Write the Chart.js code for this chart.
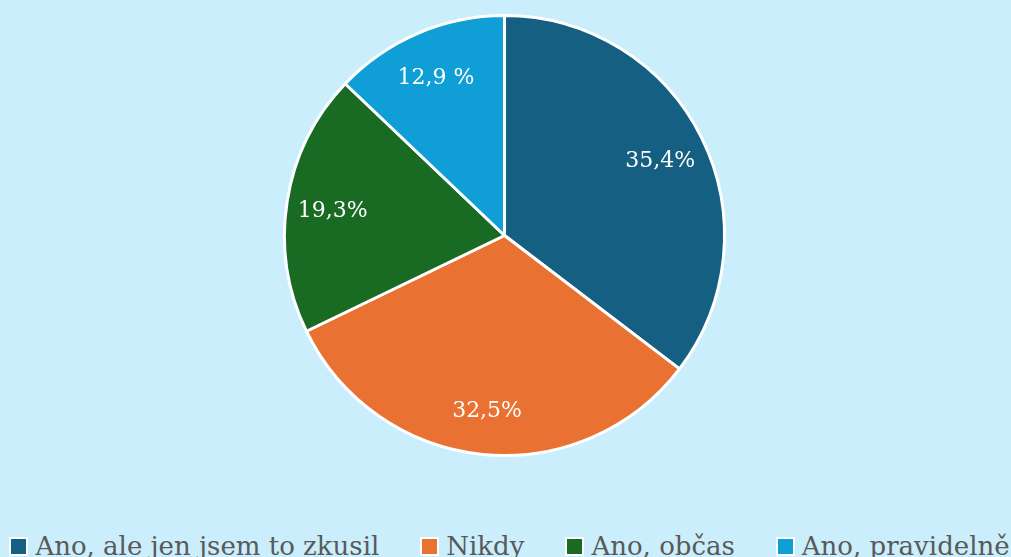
<!DOCTYPE html>
<html>
<head>
<meta charset="utf-8">
<script src="https://cdn.jsdelivr.net/npm/chart.js@4/dist/chart.umd.min.js"></script>
<style>
  html, body { margin: 0; padding: 0; background: #caeefb; overflow: hidden; width: 1011px; height: 557px; }
  #wrap { position: absolute; left: 0; top: 0; width: 1009px; height: 457px; }
  #legend { position: absolute; left: -196px; width: 1411px; top: 531px; display: flex; justify-content: center;
            white-space: nowrap; font-family: "DejaVu Serif"; font-size: 26px; line-height: 30px; color: #595959; }
  .item { display: inline-flex; align-items: center; margin: 0 20.5px; }
  .box { display: inline-block; width: 15px; height: 15px; border: 2.5px solid #ffffff; margin-right: 7px; }
</style>
</head>
<body>
<div id="wrap"><canvas id="c"></canvas></div>
<div id="legend"></div>
<script>
const categories = ["Ano, ale jen jsem to zkusil", "Nikdy", "Ano, občas", "Ano, pravidelně"];
const values = [35.4, 32.5, 19.3, 12.9];
const valueLabels = ["35,4%", "32,5%", "19,3%", "12,9 %"];
const colors = ["#156082", "#e97132", "#196b24", "#0f9ed5"];

const labelPlugin = {
  id: 'sliceLabels',
  afterDatasetsDraw(chart) {
    const ctx = chart.ctx;
    const meta = chart.getDatasetMeta(0);
    ctx.save();
    ctx.fillStyle = '#ffffff';
    ctx.font = '22px "DejaVu Serif"';
    ctx.textAlign = 'center';
    ctx.textBaseline = 'middle';
    meta.data.forEach((arc, i) => {
      const p = arc.getProps(['x', 'y', 'startAngle', 'endAngle', 'outerRadius'], true);
      const mid = (p.startAngle + p.endAngle) / 2;
      const r = p.outerRadius * 0.79;
      ctx.fillText(valueLabels[i], p.x + Math.cos(mid) * r, p.y + Math.sin(mid) * r + 3);
    });
    ctx.restore();
  }
};

const chart = new Chart(document.getElementById('c'), {
  type: 'pie',
  data: {
    labels: categories,
    datasets: [{
      data: values,
      backgroundColor: colors,
      borderColor: '#ffffff',
      borderWidth: 3
    }]
  },
  options: {
    responsive: true,
    maintainAspectRatio: false,
    animation: false,
    layout: { padding: { top: 14, bottom: 0 } },
    plugins: {
      tooltip: { enabled: false },
      legend: { display: false }
    }
  },
  plugins: [labelPlugin]
});

const legend = document.getElementById('legend');
chart.data.labels.forEach((lab, i) => {
  const item = document.createElement('span');
  item.className = 'item';
  const box = document.createElement('span');
  box.className = 'box';
  box.style.background = chart.data.datasets[0].backgroundColor[i];
  const txt = document.createElement('span');
  txt.textContent = lab;
  item.appendChild(box);
  item.appendChild(txt);
  legend.appendChild(item);
});
</script>
</body>
</html>
